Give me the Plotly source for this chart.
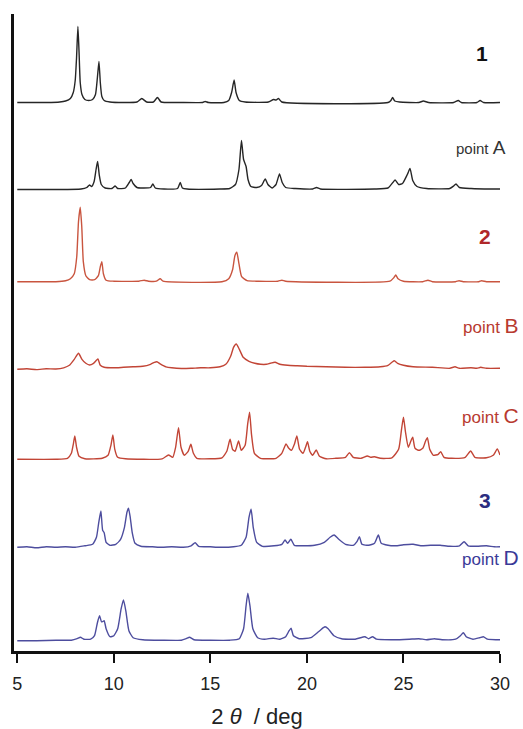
import plotly.graph_objects as go

# ---------------- data (2θ in deg, intensity in arbitrary units above each baseline) -------------
x_1 = [5.0, 6.5, 7.2, 7.5, 7.75, 7.9, 8.0, 8.07, 8.14, 8.2, 8.26, 8.35, 8.5, 8.7, 8.9, 9.05, 9.15, 9.23, 9.3, 9.38, 9.5, 9.8, 10.5, 11.2, 11.45, 11.7, 12.05, 12.26, 12.45, 13.5, 14.6, 14.73, 14.9, 15.7, 15.95, 16.1, 16.23, 16.33, 16.5, 16.8, 18.0, 18.27, 18.4, 18.53, 18.7, 24.2, 24.35, 24.44, 24.55, 24.8, 25.8, 26.03, 26.3, 27.6, 27.84, 28.0, 28.8, 28.97, 29.15, 30.0]
y_1 = [0, 0, 0.5, 1.5, 4, 10, 22, 45, 76, 50, 20, 8, 3, 2, 3, 8, 25, 41, 20, 6, 2, 0.5, 0, 0.5, 4, 0.5, 0.5, 5, 0.5, 0, 0, 1, 0, 0, 2, 10, 22.5, 10, 2, 0.5, 0.5, 3, 2.5, 4, 0.5, 0, 2, 5, 1.5, 0.5, 0, 1.5, 0, 0, 2, 0, 0, 2, 0, 0]

x_A = [5.0, 7.0, 8.3, 8.6, 8.74, 8.85, 8.98, 9.08, 9.16, 9.25, 9.35, 9.55, 9.9, 10.07, 10.2, 10.6, 10.8, 10.9, 11.0, 11.2, 11.5, 11.9, 12.02, 12.15, 12.6, 13.3, 13.44, 13.55, 13.8, 15.5, 16.0, 16.3, 16.48, 16.61, 16.72, 16.85, 16.95, 17.1, 17.4, 17.65, 17.84, 17.98, 18.2, 18.4, 18.58, 18.72, 18.9, 19.4, 20.3, 20.5, 20.7, 23.5, 24.2, 24.45, 24.57, 24.75, 24.95, 25.2, 25.34, 25.48, 25.7, 26.2, 27.4, 27.6, 27.72, 27.9, 28.5, 29.5, 30.0]
y_A = [0, 0, 0.5, 2, 4.5, 3, 8, 20, 28, 14, 5, 1.5, 1, 3.5, 1, 1.5, 7, 10, 6, 2, 1.5, 2, 5.5, 1.5, 0.5, 1, 7, 1.5, 0.5, 0.5, 1, 5, 20, 49, 30, 23, 10, 3, 2, 4, 10.5, 5, 1.5, 5, 15.5, 7, 2, 1, 0.5, 2, 0.5, 0.5, 1.5, 7, 9.5, 5, 6, 15, 21, 9, 3, 1, 1, 3.5, 5.5, 2, 1, 0.5, 0.5]

x_2 = [5.0, 7.0, 7.5, 7.75, 7.95, 8.08, 8.17, 8.26, 8.34, 8.42, 8.55, 8.75, 9.0, 9.2, 9.3, 9.38, 9.46, 9.6, 10.0, 11.3, 11.57, 11.8, 12.2, 12.4, 12.55, 15.6, 15.95, 16.15, 16.27, 16.37, 16.48, 16.62, 16.9, 17.5, 18.5, 18.7, 18.9, 24.3, 24.5, 24.6, 24.72, 25.0, 26.0, 26.27, 26.5, 27.7, 27.88, 28.1, 28.9, 29.05, 29.3, 30.0]
y_2 = [0, 0, 1, 3, 8, 25, 60, 74.4, 55, 20, 6, 2, 2, 6, 15, 20, 8, 1.5, 0.5, 0.5, 1.5, 0.5, 0.5, 3, 0.5, 0, 3, 12, 26, 29.4, 18, 5, 1, 0.5, 0.5, 1.5, 0.5, 0.5, 4, 6.7, 3, 0.5, 0, 1.5, 0, 0, 1, 0, 0, 1, 0, 0]

x_B = [5.0, 5.5, 6.0, 6.5, 7.0, 7.4, 7.7, 7.95, 8.17, 8.35, 8.55, 8.74, 8.95, 9.1, 9.18, 9.3, 9.5, 10.0, 10.5, 11.0, 11.5, 11.9, 12.1, 12.23, 12.4, 12.7, 13.0, 13.5, 14.0, 14.5, 15.0, 15.5, 15.8, 16.05, 16.2, 16.34, 16.5, 16.7, 17.0, 17.3, 17.6, 17.9, 18.1, 18.35, 18.6, 19.0, 19.5, 20.0, 21.0, 22.0, 23.0, 23.8, 24.2, 24.4, 24.53, 24.7, 25.0, 25.5, 26.5, 27.4, 27.67, 27.9, 28.5, 28.8, 29.0, 29.3, 30.0]
y_B = [0, 0.5, -0.3, 0.5, 0.3, 1.5, 4, 10, 16, 10, 6, 4.3, 6, 9, 10.3, 4, 2, 1.5, 2, 2.5, 3, 5, 7, 7.6, 5.5, 2.5, 1.5, 0.8, 1, 1.5, 1.5, 2.5, 5, 13, 22, 25.3, 20, 12, 8, 6, 5, 5, 6, 7, 5, 4, 3.5, 3, 2.5, 2, 2, 2.5, 4, 7, 8.6, 6, 4, 2.5, 2, 1, 2.5, 1, 1.5, 1, 2, 1, 1]

x_C = [5.0, 7.0, 7.6, 7.8, 7.9, 7.98, 8.07, 8.2, 8.5, 9.4, 9.7, 9.85, 9.95, 10.05, 10.2, 10.6, 12.5, 12.83, 13.05, 13.2, 13.35, 13.48, 13.65, 13.85, 13.99, 14.12, 14.3, 15.0, 15.6, 15.85, 16.02, 16.15, 16.28, 16.46, 16.6, 16.8, 16.93, 17.03, 17.13, 17.28, 17.6, 18.4, 18.7, 18.92, 19.05, 19.2, 19.35, 19.48, 19.62, 19.8, 19.93, 20.03, 20.15, 20.3, 20.48, 20.65, 21.0, 21.5, 22.0, 22.2, 22.4, 22.8, 23.13, 23.3, 23.5, 23.8, 24.4, 24.75, 24.9, 25.0, 25.1, 25.25, 25.38, 25.48, 25.6, 25.8, 26.0, 26.14, 26.24, 26.36, 26.55, 26.8, 26.93, 27.1, 27.5, 28.2, 28.48, 28.7, 29.3, 29.65, 29.86, 30.0]
y_C = [0, 0, 1, 6, 15, 23.3, 12, 3, 0.5, 1, 4, 14, 24.3, 10, 2, 0.5, 0.5, 4.3, 2, 12, 31.6, 12, 4, 8, 15, 6, 1, 0.5, 1.5, 8, 20, 10, 8, 18.3, 9, 14, 35, 47, 25, 6, 1, 1, 6, 15.3, 11.3, 9, 15, 23.3, 10, 6, 12, 17.6, 8, 4, 9.3, 3, 0.5, 1, 2, 6.6, 2, 1, 3.3, 2, 2.5, 1, 1.5, 10, 30, 42, 28, 12, 18, 22, 11, 9, 11, 18, 21.6, 10, 4, 5, 7.6, 2, 1, 2, 8.3, 2, 1.5, 4, 10.3, 4.3]

x_3 = [5.0, 5.5, 6.0, 6.5, 7.0, 7.5, 8.0, 8.5, 8.9, 9.1, 9.22, 9.33, 9.42, 9.5, 9.6, 9.8, 10.1, 10.35, 10.55, 10.68, 10.76, 10.85, 10.95, 11.1, 11.4, 12.0, 12.5, 13.0, 13.6, 14.0, 14.21, 14.4, 15.0, 15.5, 16.2, 16.6, 16.85, 17.0, 17.11, 17.22, 17.4, 17.7, 18.3, 18.7, 18.87, 19.0, 19.17, 19.35, 19.8, 20.4, 20.9, 21.2, 21.41, 21.65, 22.0, 22.4, 22.6, 22.72, 22.85, 23.2, 23.5, 23.7, 23.85, 24.2, 24.6, 25.0, 25.5, 25.9, 26.4, 26.9, 27.4, 27.9, 28.14, 28.35, 28.8, 29.3, 29.7, 30.0]
y_3 = [0, 0.5, -0.5, 0.5, 0, 0.5, 0, 1.5, 3, 10, 25, 36.3, 17, 14.6, 5, 2, 3, 8, 20, 35, 39, 30, 15, 4, 1, 0.5, 0, 0.5, 0, 1.5, 4.6, 1, 0.5, 0, 0.5, 2, 10, 30, 38, 20, 5, 1, 1.5, 3, 7.3, 4, 8, 2, 1.5, 2, 5, 10, 12.3, 8, 3, 2, 6, 10.6, 3, 2, 4, 12.3, 4, 2, 1.5, 2.5, 3, 1.5, 2, 2, 1, 1.5, 5.6, 1.5, 1, 1.5, 0.5, 0.5]

x_D = [5.0, 6.0, 7.0, 7.8, 8.1, 8.27, 8.45, 8.8, 9.0, 9.15, 9.26, 9.36, 9.42, 9.5, 9.6, 9.8, 10.0, 10.2, 10.38, 10.5, 10.62, 10.78, 11.0, 11.5, 12.5, 13.5, 13.75, 13.92, 14.15, 15.0, 16.0, 16.5, 16.72, 16.85, 16.94, 17.05, 17.2, 17.45, 17.8, 18.25, 18.6, 18.9, 19.08, 19.18, 19.3, 19.6, 20.2, 20.6, 20.85, 20.94, 21.1, 21.4, 21.8, 22.5, 23.0, 23.2, 23.4, 23.6, 24.5, 25.3, 25.8, 26.2, 26.6, 27.0, 27.7, 27.95, 28.1, 28.25, 28.6, 28.95, 29.14, 29.35, 29.8, 30.0]
y_D = [0, 0, 0.5, 0.5, 2, 3.4, 1.5, 1.5, 5, 18, 25, 19, 19, 20, 12, 4, 5, 12, 32, 40.7, 30, 10, 3, 1, 0.5, 0.5, 2, 3.4, 1, 0.5, 0.5, 2, 12, 35, 47.4, 35, 12, 3, 1.5, 2.5, 1.5, 4, 10, 12.4, 5, 2, 3, 9, 13, 14, 12, 5, 2, 1.5, 4, 2, 4, 1.5, 1, 1.5, 2, 1, 2, 1, 1.5, 5, 8, 4, 1.5, 3, 4, 1.5, 1, 1]

series_x = [x_1, x_A, x_2, x_B, x_C, x_3, x_D]
series_y = [y_1, y_A, y_2, y_B, y_C, y_3, y_D]
offsets = [548.5, 461.5, 369.3, 281.7, 191.7, 103.7, 10.3]
labels = ["<b>1</b>", "point <span style='font-size:19px'>A</span>",
          "<b>2</b>", "point <span style='font-size:21px'>B</span>",
          "point <span style='font-size:21px'>C</span>",
          "<b>3</b>", "point <span style='font-size:21px'>D</span>"]
label_y = [598, 504, 415, 326, 236, 151, 94]
label_xpaper = [0.979, 1.016, 0.986, 1.043, 1.043, 0.986, 1.043]

line_colors = ["#262626", "#262626", "#c9553f", "#c24536", "#c24536", "#4d4d9e", "#4d4d9e"]
label_colors = ["#111111", "#333333", "#b0282a", "#b83a30", "#b83a30", "#2b2d80", "#3a3a98"]
label_sizes = [21, 15, 21, 17, 17, 21, 17]

x_ticks = [5, 10, 15, 20, 25, 30]

fig = go.Figure()
for xs, ys, off, c in zip(series_x, series_y, offsets, line_colors):
    fig.add_trace(go.Scatter(x=xs, y=[v + off for v in ys], mode="lines",
                             line=dict(color=c, width=1.4, shape="spline", smoothing=0.5),
                             hoverinfo="skip", showlegend=False))

for t, xx, yy, c, s in zip(labels, label_xpaper, label_y, label_colors, label_sizes):
    fig.add_annotation(x=xx, y=yy, xref="paper", yref="y", text=t, showarrow=False,
                       xanchor="right", yanchor="middle",
                       font=dict(family="Liberation Sans, Arial, sans-serif", size=s, color=c))

fig.update_layout(
    width=523, height=729,
    margin=dict(l=14, r=23, t=14, b=78, autoexpand=False),
    plot_bgcolor="white", paper_bgcolor="white",
    showlegend=False,
    font=dict(family="Liberation Sans, Arial, sans-serif", color="#111111"),
)
fig.update_xaxes(range=[4.83, 30], tickvals=x_ticks, ticktext=[str(v) for v in x_ticks],
                 ticks="outside", ticklen=9, tickwidth=2, tickcolor="#111111",
                 showline=True, linewidth=2.5, linecolor="#111111", showgrid=False,
                 zeroline=False, tickfont=dict(size=18, color="#222222"),
                 ticklabelstandoff=6, automargin=False,
                 title=dict(text="2 <i>θ</i>  / deg", font=dict(size=22, color="#222222"), standoff=17))
fig.update_yaxes(range=[0, 637], showline=True, linewidth=2.5, linecolor="#111111",
                 showticklabels=False, ticks="", showgrid=False, zeroline=False, automargin=False)

fig.write_html("out.html")
